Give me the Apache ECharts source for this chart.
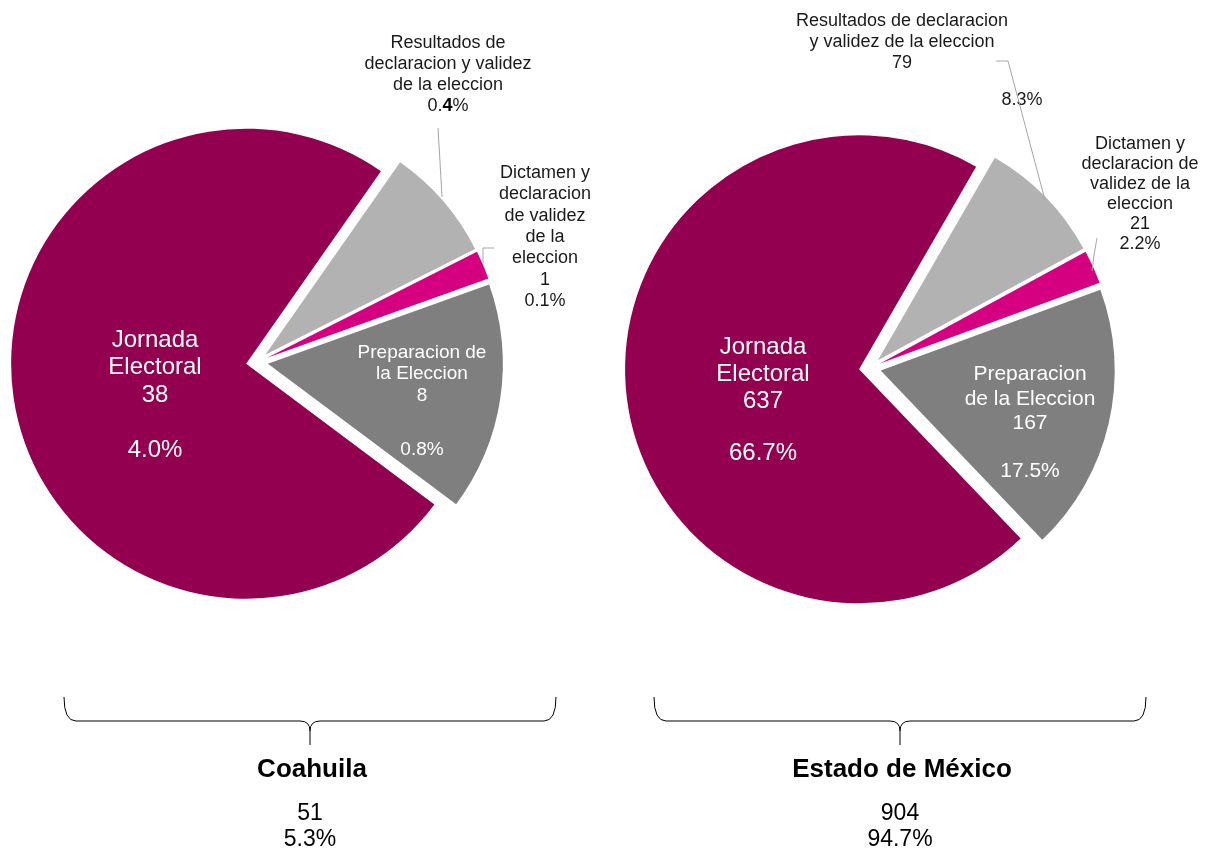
<!DOCTYPE html>
<html><head><meta charset="utf-8">
<script src="https://cdn.jsdelivr.net/npm/echarts@6/dist/echarts.min.js"></script>
<style>html,body{margin:0;padding:0;background:#fff}#c{width:1207px;height:855px}</style>
</head><body><div id="c"></div>
<script>
// ---- data ----
const categories = ['Resultados de declaracion y validez de la eleccion', 'Dictamen y declaracion de validez de la eleccion', 'Preparacion de la Eleccion', 'Jornada Electoral'];
const states = ['Coahuila', 'Estado de México'];
const coahuilaValues = [4, 1, 8, 38];
const mexicoValues = [79, 21, 167, 637];
const coahuilaLabelNames = ['Resultados de\ndeclaracion y validez\nde la eleccion', 'Dictamen y\ndeclaracion\nde validez\nde la\neleccion', 'Preparacion de\nla Eleccion', 'Jornada\nElectoral'];
const mexicoLabelNames = ['Resultados de declaracion\ny validez de la eleccion', 'Dictamen y\ndeclaracion de\nvalidez de la\neleccion', 'Preparacion\nde la Eleccion', 'Jornada\nElectoral'];
const colors = ['#B2B2B2', '#D5007F', '#7F7F7F', '#93004F'];

// ---- derived ----
const sum = a => a.reduce((s, v) => s + v, 0);
const grandTotal = sum(coahuilaValues) + sum(mexicoValues);
const pct = v => (v / grandTotal * 100).toFixed(1) + '%';
const FONT = '"Liberation Sans", Arial, sans-serif';

const chart = echarts.init(document.getElementById('c'), null, {renderer: 'canvas'});

// exploded slices (no labels)
function sliceData(values) {
  return values.map((v, i) => ({
    value: v, name: categories[i], selected: true,
    itemStyle: {color: colors[i], borderWidth: 0}
  }));
}

const insideLabel = (txt, size, lh, sp) => ({
  label: {show: true, position: 'inside', formatter: txt, color: '#fff', fontSize: size, lineHeight: lh, fontFamily: FONT, align: 'center',
    rich: {s: {fontSize: 4, lineHeight: sp}}},
  labelLine: {show: false}
});
const outsideLabel = (txt, size, lh) => ({
  label: {show: true, position: 'outside', formatter: txt, color: '#1a1a1a', fontSize: size, lineHeight: lh, fontFamily: FONT, align: 'center',
    rich: {b: {fontWeight: 'bold', fontSize: size, lineHeight: lh, fontFamily: FONT, color: '#000'}}},
  labelLine: {show: true, length: 8, length2: 8, lineStyle: {color: '#A6A6A6', width: 1}}
});

// transparent overlay carrying the data labels
function labelData(values, names, styleFor) {
  return values.map((v, i) => Object.assign({
    value: v, name: categories[i],
    itemStyle: {color: 'rgba(0,0,0,0)', borderWidth: 0}
  }, styleFor(i, v, names[i])));
}

const coahuilaLabels = labelData(coahuilaValues, coahuilaLabelNames, (i, v, n) => {
  if (i === 0) return outsideLabel(n + '\n' + pct(v).replace(String(v), '{b|' + v + '}'), 18, 21);
  if (i === 1) return outsideLabel(n + '\n' + v + '\n' + pct(v), 18, 21.3);
  if (i === 2) return insideLabel(n + '\n' + v + '\n{s| }\n' + pct(v), 19, 21.8, 32);
  return insideLabel(n + '\n' + v + '\n{s| }\n' + pct(v), 24, 27.6, 27.4);
});
const mexicoLabels = labelData(mexicoValues, mexicoLabelNames, (i, v, n) => {
  if (i === 0) return outsideLabel(n + '\n' + v, 18, 21);
  if (i === 1) return outsideLabel(n + '\n' + v + '\n' + pct(v), 18, 20);
  if (i === 2) return insideLabel(n + '\n' + v + '\n{s| }\n' + pct(v), 21, 24.5, 23.5);
  return insideLabel(n + '\n' + v + '\n{s| }\n' + pct(v), 24, 27, 25);
});

// label anchor positions (text block centers) and leader-line routes
const coahuilaLabelPos = [[448, 74.5], [545, 237], [422, 401], [155, 395]];
const mexicoLabelPos = [[902, 42], [1140, 194], [1030, 423], [763, 400]];
const coahuilaLeaders = [[[442, 197], [440, 162], [438, 128]], [[483, 263], [483, 248], [494, 248]], null, null];
const mexicoLeaders = [[[1045, 200], [1008, 61], [996, 61]], [[1092, 271], [1094, 255], [1097, 238]], null, null];

const common = {
  type: 'pie', clockwise: true, avoidLabelOverlap: false, animation: false,
  silent: true, emphasis: {disabled: true}
};
function sliceSeries(values, center, radius, startAngle) {
  return Object.assign({}, common, {
    center: center, radius: radius, startAngle: startAngle,
    selectedMode: 'multiple', selectedOffset: 11,
    label: {show: false}, labelLine: {show: false},
    data: sliceData(values)
  });
}
function labelSeries(data, center, radius, startAngle, labelPos, leaders) {
  return Object.assign({}, common, {
    center: center, radius: radius, startAngle: startAngle,
    selectedMode: false, z: 5,
    data: data,
    labelLayout: function (params) {
      const p = labelPos[params.dataIndex];
      const out = {x: p[0], y: p[1], align: 'center', verticalAlign: 'middle'};
      if (leaders[params.dataIndex]) out.labelLinePoints = leaders[params.dataIndex];
      return out;
    }
  });
}

// brace made of curves and lines
function brace(x0, x1, yTop, yMid, yTip) {
  const xm = (x0 + x1) / 2;
  const st = {stroke: '#000', lineWidth: 1, fill: null};
  return [
    {type: 'bezierCurve', shape: {x1: x0, y1: yTop, cpx1: x0, cpy1: yMid, x2: x0 + 12, y2: yMid}, style: st},
    {type: 'line', shape: {x1: x0 + 12, y1: yMid, x2: xm - 10, y2: yMid}, style: st},
    {type: 'bezierCurve', shape: {x1: xm - 10, y1: yMid, cpx1: xm, cpy1: yMid, x2: xm, y2: yMid + 10}, style: st},
    {type: 'bezierCurve', shape: {x1: xm + 10, y1: yMid, cpx1: xm, cpy1: yMid, x2: xm, y2: yMid + 10}, style: st},
    {type: 'line', shape: {x1: xm, y1: yMid + 10, x2: xm, y2: yTip}, style: st},
    {type: 'line', shape: {x1: xm + 10, y1: yMid, x2: x1 - 12, y2: yMid}, style: st},
    {type: 'bezierCurve', shape: {x1: x1, y1: yTop, cpx1: x1, cpy1: yMid, x2: x1 - 12, y2: yMid}, style: st}
  ];
}

const groups = [
  {name: states[0], values: coahuilaValues, cx: 310, x0: 64, x1: 556},
  {name: states[1], values: mexicoValues, cx: 900, x0: 654, x1: 1146}
];
const graphics = [];
groups.forEach(g => {
  brace(g.x0, g.x1, 697, 721, 745).forEach(e => graphics.push(e));
  graphics.push({type: 'text', x: g.cx + 2, y: 770, style: {text: g.name, font: 'bold 26px ' + FONT, fill: '#000', textAlign: 'center', textVerticalAlign: 'middle'}});
  graphics.push({type: 'text', x: g.cx, y: 827, style: {text: sum(g.values) + '\n' + pct(sum(g.values)), font: '23px ' + FONT, lineHeight: 26, fill: '#000', textAlign: 'center', textVerticalAlign: 'middle'}});
});
// separate percentage text for Mexico "Resultados" label
graphics.push({type: 'text', x: 1022, y: 100, style: {text: pct(mexicoValues[0]), font: '18px ' + FONT, fill: '#1a1a1a', textAlign: 'center', textVerticalAlign: 'middle'}});

chart.setOption({
  animation: false,
  backgroundColor: '#fff',
  series: [
    sliceSeries(coahuilaValues, [257, 362], 235, 55),
    sliceSeries(mexicoValues, [870, 368], 234, 60),
    labelSeries(coahuilaLabels, [257, 362], 235, 55, coahuilaLabelPos, coahuilaLeaders),
    labelSeries(mexicoLabels, [870, 368], 234, 60, mexicoLabelPos, mexicoLeaders)
  ],
  graphic: graphics
});
</script>
</body></html>
